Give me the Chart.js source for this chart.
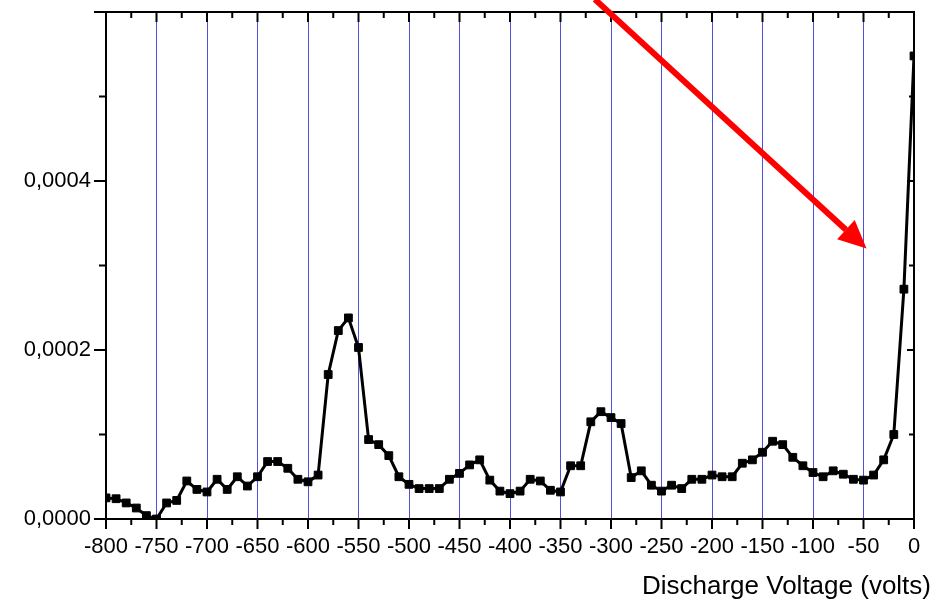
<!DOCTYPE html>
<html>
<head>
<meta charset="utf-8">
<script src="https://cdn.jsdelivr.net/npm/chart.js@4.4.1/dist/chart.umd.min.js"></script>
<style>
  body { margin: 0; background: #fff; }
  canvas { display: block; }
</style>
</head>
<body>
<canvas id="myChart" width="940" height="600"></canvas>
<script>
// discharge voltage (volts), one point every 10 V
const voltage = [
  -800, -790, -780, -770, -760, -750, -740, -730, -720, -710,
  -700, -690, -680, -670, -660, -650, -640, -630, -620, -610,
  -600, -590, -580, -570, -560, -550, -540, -530, -520, -510,
  -500, -490, -480, -470, -460, -450, -440, -430, -420, -410,
  -400, -390, -380, -370, -360, -350, -340, -330, -320, -310,
  -300, -290, -280, -270, -260, -250, -240, -230, -220, -210,
  -200, -190, -180, -170, -160, -150, -140, -130, -120, -110,
  -100, -90, -80, -70, -60, -50, -40, -30, -20, -10, 0
];
const signal = [
  2.5e-5, 2.4e-5, 1.9e-5, 1.3e-5, 0.4e-5, 0, 1.9e-5, 2.2e-5, 4.5e-5, 3.5e-5,
  3.2e-5, 4.7e-5, 3.5e-5, 5.0e-5, 3.9e-5, 5.0e-5, 6.8e-5, 6.8e-5, 6.0e-5, 4.7e-5,
  4.4e-5, 5.2e-5, 17.1e-5, 22.3e-5, 23.8e-5, 20.3e-5, 9.4e-5, 8.8e-5, 7.5e-5, 5.0e-5,
  4.1e-5, 3.6e-5, 3.6e-5, 3.6e-5, 4.7e-5, 5.4e-5, 6.4e-5, 7.0e-5, 4.6e-5, 3.3e-5,
  3.0e-5, 3.3e-5, 4.7e-5, 4.5e-5, 3.4e-5, 3.2e-5, 6.3e-5, 6.3e-5, 11.5e-5, 12.7e-5,
  12.0e-5, 11.3e-5, 4.9e-5, 5.7e-5, 4.0e-5, 3.3e-5, 4.0e-5, 3.6e-5, 4.7e-5, 4.7e-5,
  5.2e-5, 5.0e-5, 5.0e-5, 6.6e-5, 7.0e-5, 7.9e-5, 9.2e-5, 8.8e-5, 7.3e-5, 6.3e-5,
  5.5e-5, 5.0e-5, 5.7e-5, 5.3e-5, 4.7e-5, 4.6e-5, 5.2e-5, 7.0e-5, 10.0e-5, 27.2e-5, 54.8e-5
];
const yLabelValues = [0, 0.0002, 0.0004];
const xTitle = 'Discharge Voltage (volts)';
// red arrow, in data units (start is just above the frame)
const arrowFrom = { x: -316, y: 0.000615 };
const arrowTo = { x: -47, y: 0.00032 };

const font = '"Liberation Sans", Arial, sans-serif';
const gridBlue = '#5050dc';

let points = [];
for (let i = 0; i < voltage.length; i++) {
  points.push({ x: voltage[i], y: signal[i] });
}

const framePlugin = {
  id: 'frame',
  afterDraw(chart) {
    const ctx = chart.ctx;
    const a = chart.chartArea;
    const x = chart.scales.x;
    const y = chart.scales.y;
    ctx.save();
    ctx.strokeStyle = '#000';
    ctx.lineWidth = 2;
    ctx.strokeRect(a.left, a.top, a.right - a.left, a.bottom - a.top);

    // tick marks: out on left/bottom, in on top/right
    ctx.beginPath();
    for (let v = -800; v <= 0; v += 25) {
      const px = x.getPixelForValue(v);
      const major = v % 50 === 0;
      ctx.moveTo(px, a.bottom);
      ctx.lineTo(px, a.bottom + (major ? 10 : 6));
      ctx.moveTo(px, a.top);
      ctx.lineTo(px, a.top + (major ? 10 : 6));
    }
    for (let k = 0; k <= 6; k++) {
      const py = y.getPixelForValue(k / 10000);
      const major = k % 2 === 0;
      ctx.moveTo(a.left, py);
      ctx.lineTo(a.left - (major ? 12 : 7), py);
      ctx.moveTo(a.right, py);
      ctx.lineTo(a.right - (major ? 7 : 5), py);
    }
    ctx.stroke();

    // arrow
    const x0 = x.getPixelForValue(arrowFrom.x), y0 = y.getPixelForValue(arrowFrom.y);
    const x1 = x.getPixelForValue(arrowTo.x), y1 = y.getPixelForValue(arrowTo.y);
    const ang = Math.atan2(y1 - y0, x1 - x0);
    const headLen = 28, headW = 13;
    const bx = x1 - headLen * Math.cos(ang), by = y1 - headLen * Math.sin(ang);
    ctx.strokeStyle = '#ff0000';
    ctx.fillStyle = '#ff0000';
    ctx.lineWidth = 6;
    ctx.beginPath();
    ctx.moveTo(x0, y0);
    ctx.lineTo(bx, by);
    ctx.stroke();
    ctx.beginPath();
    ctx.moveTo(x1, y1);
    ctx.lineTo(bx + headW * Math.sin(ang), by - headW * Math.cos(ang));
    ctx.lineTo(bx - headW * Math.sin(ang), by + headW * Math.cos(ang));
    ctx.closePath();
    ctx.fill();

    // axis title
    ctx.fillStyle = '#000';
    ctx.font = '26px ' + font;
    ctx.textAlign = 'right';
    ctx.textBaseline = 'alphabetic';
    ctx.fillText(xTitle, chart.width - 9, chart.height - 6);
    ctx.restore();
  }
};

let ctx = document.getElementById('myChart');
let myChart = new Chart(ctx, {
  type: 'line',
  data: {
    datasets: [{
      data: points,
      borderColor: '#000',
      backgroundColor: '#000',
      borderWidth: 3,
      pointStyle: 'rect',
      pointRadius: 5.5,
      pointBorderWidth: 1,
      tension: 0
    }]
  },
  options: {
    responsive: false,
    animation: false,
    layout: {
      padding: { left: 0, right: 26, top: 12, bottom: 0 }
    },
    plugins: {
      legend: { display: false },
      tooltip: { enabled: false }
    },
    scales: {
      x: {
        type: 'linear',
        min: -800,
        max: 0,
        afterFit: s => { s.height = 81; },
        border: { display: false },
        grid: {
          drawTicks: false,
          lineWidth: 1,
          color: c => (c.tick && (c.tick.value === -800 || c.tick.value === 0)) ? 'rgba(0,0,0,0)' : gridBlue
        },
        ticks: {
          stepSize: 50,
          autoSkip: false,
          maxRotation: 0,
          padding: 15,
          color: '#000',
          font: { family: font, size: 22 },
          callback: v => String(v)
        }
      },
      y: {
        min: 0,
        max: 0.0006,
        afterFit: s => {
          s.width = 106;
          s.paddingTop = 0;
          s.paddingBottom = 0;
        },
        border: { display: false },
        grid: { display: false, drawTicks: false },
        ticks: {
          stepSize: 0.0001,
          padding: 15,
          color: '#000',
          font: { family: font, size: 22 },
          callback: v => {
            const hit = yLabelValues.find(l => Math.abs(l - v) < 1e-9);
            return hit === undefined ? '' : hit.toFixed(4).replace('.', ',');
          }
        }
      }
    }
  },
  plugins: [framePlugin]
});
</script>
</body>
</html>
